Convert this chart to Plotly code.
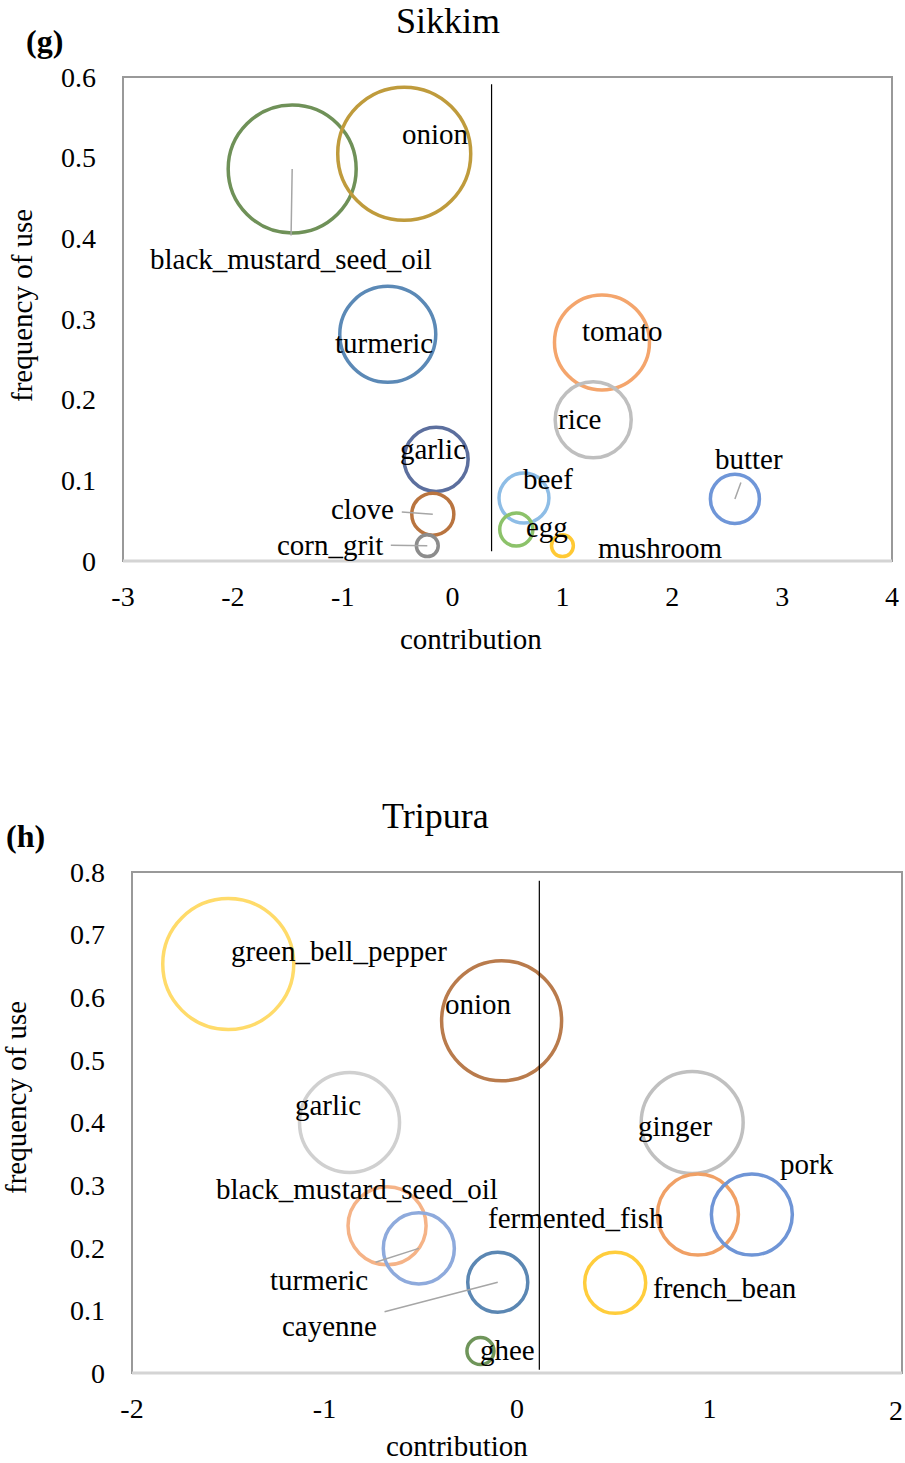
import plotly.graph_objects as go

W, H = 905, 1463

# ---- Sikkim ----
sk_items = ["black_mustard_seed_oil", "onion", "turmeric", "garlic", "clove", "corn_grit",
            "tomato", "rice", "beef", "egg", "mushroom", "butter"]
sk_contribution = [-1.46, -0.44, -0.59, -0.15, -0.18, -0.23, 1.36, 1.28, 0.65, 0.58, 1.00, 2.57]
sk_frequency = [0.486, 0.505, 0.281, 0.126, 0.058, 0.019, 0.271, 0.175, 0.078, 0.039, 0.019, 0.077]
sk_weight = [0.926, 1.0, 0.521, 0.232, 0.100, 0.027, 0.510, 0.327, 0.141, 0.062, 0.027, 0.136]
sk_divider_x = 0.355
sk_divider_y = [0.012, 0.591]
sk_xticks = [-3, -2, -1, 0, 1, 2, 3, 4]
sk_yticks = [0, 0.1, 0.2, 0.3, 0.4, 0.5, 0.6]

# ---- Tripura ----
tr_items = ["green_bell_pepper", "onion", "garlic", "ginger", "fermented_fish", "pork",
            "french_bean", "black_mustard_seed_oil", "turmeric", "cayenne", "ghee"]
tr_contribution = [-1.50, -0.08, -0.87, 0.91, 0.94, 1.22, 0.51, -0.675, -0.51, -0.10, -0.19]
tr_frequency = [0.653, 0.5625, 0.40, 0.40, 0.253, 0.253, 0.144, 0.235, 0.199, 0.145, 0.035]
tr_weight = [1.0, 0.839, 0.583, 0.606, 0.382, 0.382, 0.217, 0.355, 0.294, 0.210, 0.0425]
tr_divider_x = 0.116
tr_divider_y = [0.005, 0.786]
tr_xticks = [-2, -1, 0, 1, 2]
tr_yticks = [0, 0.1, 0.2, 0.3, 0.4, 0.5, 0.6, 0.7, 0.8]

# styling
sk_colors = ["#6f9158", "#bf9b3c", "#5b89b6", "#5c6f9e", "#b9743f", "#8c8c8c",
             "#f4a56c", "#bfbfbf", "#8ebde6", "#8cc26a", "#ffc934", "#6f96d8"]
tr_colors = ["#ffdb6a", "#b97b4c", "#d0d0d0", "#c0c0c0", "#f0a065", "#6f95d6",
             "#ffcd3c", "#f5b387", "#8eaadc", "#5b87b3", "#6f955a"]

# label placement: pixel offset of text centre from bubble centre, and optional leader
sk_label_off = {
    "black_mustard_seed_oil": (-1.5, 90, True), "onion": (31.5, -20, False),
    "turmeric": (-4, 9, False), "garlic": (-3, -10, False), "clove": (-70, -5, True),
    "corn_grit": (-97, -1, True), "tomato": (21, -11, False), "rice": (-13.5, -1, False),
    "beef": (24, -19, False), "egg": (30.5, -2.5, False), "mushroom": (98.5, 2.5, False),
    "butter": (14.5, -39.5, True),
}
tr_label_off = {
    "green_bell_pepper": (110.5, -13, False), "onion": (-23, -17, False),
    "garlic": (-22, -18, False), "ginger": (-17, 3, False), "fermented_fish": (-121.5, 3, False),
    "pork": (55.5, -51, False), "french_bean": (109.5, 5.5, False),
    "black_mustard_seed_oil": (-30, -36.5, False), "turmeric": (-99.5, 32, True),
    "cayenne": (-168, 44, True), "ghee": (27.5, -1, False),
}

FONT = "Liberation Serif, Times New Roman, serif"
FS = 29
TICK_FS = 28
LW = 3.5

# plot areas in pixels (left, top, right, bottom)
sk_box = (123, 77, 892, 561)
tr_box = (132, 872, 902, 1373)


def dom(box):
    l, t, r, b = box
    return [l / W, r / W], [1 - b / H, 1 - t / H]


fig = go.Figure()


def add_panel(items, xs, ys, weight, colors, max_radius, xa, ya, div_x, div_y, offsets):
    sizeref = max(weight) / (2 * max_radius ** 2)
    fig.add_trace(go.Scatter(
        x=xs, y=ys, mode="markers", xaxis=xa, yaxis=ya, showlegend=False,
        marker=dict(size=weight, sizemode="area", sizeref=sizeref, opacity=1,
                    color="rgba(0,0,0,0)", line=dict(color=colors, width=LW)),
        hoverinfo="text", text=items, cliponaxis=False,
    ))
    fig.add_trace(go.Scatter(
        x=[div_x, div_x], y=div_y, mode="lines", xaxis=xa, yaxis=ya, showlegend=False,
        line=dict(color="black", width=1.2), hoverinfo="skip",
    ))
    xref = xa.replace("xaxis", "x")
    yref = ya.replace("yaxis", "y")
    for name, x, y in zip(items, xs, ys):
        dx, dy, leader = offsets[name]
        if leader:
            fig.add_annotation(
                x=x, y=y, xref=xref, yref=yref, text=name, showarrow=True,
                ax=dx, ay=dy, axref="pixel", ayref="pixel", arrowhead=0,
                arrowwidth=1.5, arrowcolor="#a6a6a6", startstandoff=6,
                font=dict(family=FONT, size=FS, color="black"),
            )
        else:
            fig.add_annotation(
                x=x, y=y, xref=xref, yref=yref, text=name, showarrow=False,
                xshift=dx, yshift=-dy, font=dict(family=FONT, size=FS, color="black"),
            )


add_panel(sk_items, sk_contribution, sk_frequency, sk_weight, sk_colors, 66.5,
          "x", "y", sk_divider_x, sk_divider_y, sk_label_off)
add_panel(tr_items, tr_contribution, tr_frequency, tr_weight, tr_colors, 65.5,
          "x2", "y2", tr_divider_x, tr_divider_y, tr_label_off)


def axis(domain, rng, ticks, anchor, standoff):
    return dict(domain=domain, range=rng, tickvals=ticks, ticktext=[f"{t:g}" for t in ticks],
                showgrid=False, zeroline=False, showline=False, ticks="",
                anchor=anchor, ticklabelstandoff=standoff, automargin=False,
                tickfont=dict(family=FONT, size=TICK_FS, color="black"), fixedrange=True)


skx, sky = dom(sk_box)
trx, try_ = dom(tr_box)
fig.update_layout(
    xaxis=axis(skx, [-3, 4], sk_xticks, "y", 16),
    yaxis=axis(sky, [0, 0.6], sk_yticks, "x", 26),
    xaxis2=axis(trx, [-2, 2], tr_xticks[:-1], "y2", 16),
    yaxis2=axis(try_, [0, 0.8], tr_yticks, "x2", 26),
)

# plot-area frames and bottom axis lines
for (l, t, r, b) in (sk_box, tr_box):
    fig.add_shape(type="rect", xref="paper", yref="paper",
                  x0=l / W, x1=r / W, y0=1 - b / H, y1=1 - t / H,
                  line=dict(color="#999999", width=2), layer="below")
    fig.add_shape(type="line", xref="paper", yref="paper",
                  x0=l / W, x1=r / W, y0=1 - b / H, y1=1 - b / H,
                  line=dict(color="#d4d4d4", width=3), layer="below")


def text_px(x, y, s, size=FS, bold=False, angle=0, xanchor="center"):
    fig.add_annotation(x=x / W, y=1 - y / H, xref="paper", yref="paper",
                       text=f"<b>{s}</b>" if bold else s, showarrow=False, textangle=angle,
                       xanchor=xanchor, yanchor="middle",
                       font=dict(family=FONT, size=size, color="black"))


# the last Tripura tick label is kept inside the page's right edge
fig.add_annotation(x=tr_xticks[-1], y=0, xref="x2", yref="y2", text=f"{tr_xticks[-1]:g}",
                   showarrow=False, yshift=-37, xanchor="right", xshift=3,
                   font=dict(family=FONT, size=TICK_FS, color="black"))

text_px(448, 21, "Sikkim", size=36)
text_px(44, 41, "(g)", size=32, bold=True)
text_px(471, 639, "contribution")
text_px(22, 306, "frequency of use", angle=-90)

text_px(435, 816, "Tripura", size=36)
text_px(25, 836, "(h)", size=32, bold=True)
text_px(457, 1446, "contribution")
text_px(16, 1098, "frequency of use", angle=-90)

fig.update_layout(
    width=W, height=H, margin=dict(l=0, r=0, t=0, b=0, autoexpand=False),
    paper_bgcolor="white", plot_bgcolor="white", showlegend=False,
    font=dict(family=FONT, size=FS, color="black"),
)

fig.write_html("out.html")
